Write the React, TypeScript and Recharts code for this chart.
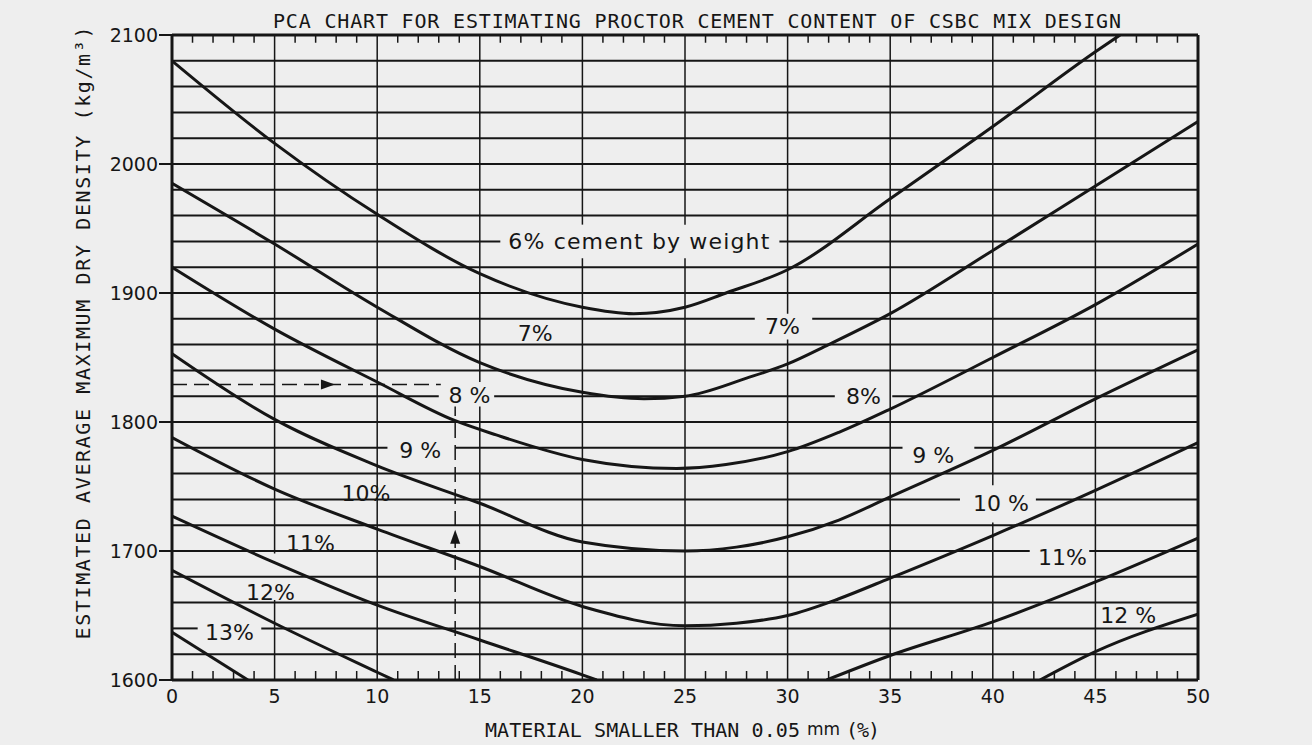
import { LineChart, Line, XAxis, YAxis, ReferenceLine, ReferenceDot } from 'recharts';

const BG = '#eeeeee';
const INK = '#161616';
const LABEL_FONT = "'DejaVu Sans', 'Noto Sans', sans-serif";
const MONO_FONT = "'DejaVu Sans Mono', 'Liberation Mono', monospace";

// axes
const xTicks = [0, 5, 10, 15, 20, 25, 30, 35, 40, 45, 50];
const yTicks = [1600, 1700, 1800, 1900, 2000, 2100];
const gridX = [5, 10, 15, 20, 25, 30, 35, 40, 45];
const gridY = [
  1620, 1640, 1660, 1680, 1700, 1720, 1740, 1760, 1780, 1800, 1820, 1840,
  1860, 1880, 1900, 1920, 1940, 1960, 1980, 2000, 2020, 2040, 2060, 2080,
];
const minorX = [
  1, 2, 3, 4, 6, 7, 8, 9, 11, 12, 13, 14, 16, 17, 18, 19, 21, 22, 23, 24,
  26, 27, 28, 29, 31, 32, 33, 34, 36, 37, 38, 39, 41, 42, 43, 44, 46, 47, 48, 49,
];

type Pt = { x: number; y: number };

// cement content curves (material % vs density kg/m3)
const cement6: Pt[] = [
  { x: 0, y: 2080 }, { x: 5, y: 2016 }, { x: 10, y: 1961 }, { x: 15, y: 1915 },
  { x: 20, y: 1889 }, { x: 22.5, y: 1884 }, { x: 25, y: 1889 }, { x: 27, y: 1900 },
  { x: 30, y: 1918 }, { x: 35, y: 1973 }, { x: 40, y: 2029 }, { x: 45, y: 2087 },
  { x: 46.2, y: 2100 },
];
const cement7: Pt[] = [
  { x: 0, y: 1985 }, { x: 5, y: 1938 }, { x: 10, y: 1889 }, { x: 15, y: 1846 },
  { x: 20, y: 1823 }, { x: 23, y: 1818 }, { x: 25, y: 1820 }, { x: 28, y: 1834 },
  { x: 30, y: 1845 }, { x: 32, y: 1860 }, { x: 35, y: 1884 }, { x: 40, y: 1933 },
  { x: 45, y: 1983 }, { x: 50, y: 2033 },
];
const cement8: Pt[] = [
  { x: 0, y: 1920 }, { x: 5, y: 1872 }, { x: 10, y: 1831 }, { x: 13.8, y: 1801 },
  { x: 15.8, y: 1790 }, { x: 20, y: 1771 }, { x: 24.6, y: 1764 }, { x: 27, y: 1767 },
  { x: 30, y: 1777 }, { x: 32.5, y: 1792 }, { x: 35, y: 1810 }, { x: 40, y: 1850 },
  { x: 45, y: 1891 }, { x: 50, y: 1938 },
];
const cement9: Pt[] = [
  { x: 0, y: 1853 }, { x: 5, y: 1802 }, { x: 10, y: 1766 }, { x: 15, y: 1737 },
  { x: 20, y: 1707 }, { x: 25, y: 1700 }, { x: 27.5, y: 1703 }, { x: 30, y: 1711 },
  { x: 32.5, y: 1724 }, { x: 35, y: 1742 }, { x: 40, y: 1778 }, { x: 45, y: 1818 },
  { x: 50, y: 1856 },
];
const cement10: Pt[] = [
  { x: 0, y: 1788 }, { x: 5, y: 1748 }, { x: 10, y: 1717 }, { x: 15, y: 1688 },
  { x: 20, y: 1657 }, { x: 25, y: 1642 }, { x: 27.5, y: 1644 }, { x: 30, y: 1650 },
  { x: 32.5, y: 1663 }, { x: 35, y: 1679 }, { x: 40, y: 1712 }, { x: 45, y: 1747 },
  { x: 50, y: 1784 },
];
const cement11Left: Pt[] = [
  { x: 0, y: 1727 }, { x: 5, y: 1691 }, { x: 10, y: 1658 }, { x: 15, y: 1631 },
  { x: 20, y: 1604 }, { x: 20.7, y: 1600 },
];
const cement11Right: Pt[] = [
  { x: 31.9, y: 1600 }, { x: 35, y: 1619 }, { x: 40, y: 1645 }, { x: 45, y: 1676 },
  { x: 50, y: 1710 },
];
const cement12Left: Pt[] = [
  { x: 0, y: 1685 }, { x: 5, y: 1644 }, { x: 10, y: 1606 }, { x: 10.8, y: 1600 },
];
const cement12Right: Pt[] = [
  { x: 42.3, y: 1600 }, { x: 45, y: 1622 }, { x: 50, y: 1651 },
];
const cement13: Pt[] = [{ x: 0, y: 1637 }, { x: 3.7, y: 1600 }];

const curves = [cement6, cement7, cement8, cement9, cement10, cement11Left, cement11Right, cement12Left, cement12Right, cement13];

// labels written along the curves
const curveLabels = [
  { text: '6% cement by weight', x: 22.75, y: 1940, len: 261 },
  { text: '7%', x: 17.7, y: 1869 },
  { text: '7%', x: 29.75, y: 1874 },
  { text: '8 %', x: 14.5, y: 1821 },
  { text: '8%', x: 33.7, y: 1820 },
  { text: '9 %', x: 12.1, y: 1778 },
  { text: '9 %', x: 37.1, y: 1774 },
  { text: '10%', x: 9.45, y: 1745 },
  { text: '10 %', x: 40.4, y: 1737 },
  { text: '11%', x: 6.75, y: 1706 },
  { text: '11%', x: 43.4, y: 1695 },
  { text: '12%', x: 4.8, y: 1668 },
  { text: '12 %', x: 46.6, y: 1650 },
  { text: '13%', x: 2.8, y: 1637 },
];

// breaks left in the grid lines where a label is lettered over them
const gapsOnY: Record<number, [number, number][]> = {
  1940: [[16.0, 29.6]],
  1880: [[28.4, 31.2]],
  1820: [[13.0, 15.7], [32.3, 35.1]],
  1780: [[10.5, 13.8], [35.6, 39.1]],
  1740: [[38.4, 42.1]],
  1700: [[41.8, 44.7]],
  1640: [[1.25, 4.35]],
};
const gapsOnX: Record<number, [number, number][]> = {
  5: [[1662, 1698]],
  15: [[1812, 1831]],
  20: [[1927, 1953]],
  25: [[1927, 1953]],
  30: [[1864, 1884]],
  40: [[1722, 1751]],
};

// worked example: 1830 kg/m3 with about 14 % fines
const exampleDensity = 1829;
const exampleFines = 13.8;

function pieces(gaps: [number, number][] | undefined, lo: number, hi: number): [number, number][] {
  const out: [number, number][] = [];
  let from = lo;
  (gaps || []).forEach(([a, b]) => {
    out.push([from, a]);
    from = b;
  });
  out.push([from, hi]);
  return out;
}

function CurveLabel(props: any) {
  const { cx, cy, text, len } = props;
  return (
    <text
      x={cx}
      y={cy}
      dy="0.36em"
      textAnchor="middle"
      fontSize={22}
      fontFamily={LABEL_FONT}
      fill={INK}
      textLength={len}
      lengthAdjust={len ? 'spacing' : undefined}
    >
      {text}
    </text>
  );
}

export default function App() {
  return (
    <div style={{ position: 'absolute', left: 0, top: 0, width: 1312, height: 745, background: BG }}>
      <LineChart width={1312} height={745} margin={{ top: 35, right: 114, bottom: 25, left: 112 }}>
        <XAxis
          type="number"
          dataKey="x"
          domain={[0, 50]}
          ticks={xTicks}
          allowDataOverflow
          axisLine={false}
          tickLine={false}
          tickSize={0}
          tickMargin={10}
          height={40}
          tick={{ fill: INK, fontSize: 19, fontFamily: LABEL_FONT }}
        />
        <YAxis
          type="number"
          dataKey="y"
          domain={[1600, 2100]}
          ticks={yTicks}
          allowDataOverflow
          axisLine={false}
          tickLine={{ stroke: INK, strokeWidth: 2 }}
          tickSize={13}
          tickMargin={1}
          width={60}
          tick={{ fill: INK, fontSize: 19, fontFamily: LABEL_FONT }}
        />
        {gridY.map((v) =>
          pieces(gapsOnY[v], 0, 50).map(([a, b]) => (
            <ReferenceLine key={`h${v}-${a}`} segment={[{ x: a, y: v }, { x: b, y: v }]} stroke={INK} strokeWidth={2} />
          )),
        )}
        {gridX.map((v) =>
          pieces(gapsOnX[v], 1600, 2100).map(([a, b]) => (
            <ReferenceLine key={`v${v}-${a}`} segment={[{ x: v, y: a }, { x: v, y: b }]} stroke={INK} strokeWidth={1.5} />
          )),
        )}
        {minorX.map((v) => (
          <ReferenceLine key={'tt' + v} segment={[{ x: v, y: 2100 }, { x: v, y: 2094 }]} stroke={INK} strokeWidth={1.5} />
        ))}
        {minorX.map((v) => (
          <ReferenceLine key={'tb' + v} segment={[{ x: v, y: 1600 }, { x: v, y: 1607 }]} stroke={INK} strokeWidth={1.5} />
        ))}
        <ReferenceLine x={0} stroke={INK} strokeWidth={3} />
        <ReferenceLine x={50} stroke={INK} strokeWidth={3} />
        <ReferenceLine y={1600} stroke={INK} strokeWidth={3} />
        <ReferenceLine y={2100} stroke={INK} strokeWidth={3} />
        <ReferenceLine
          segment={[{ x: 0, y: exampleDensity }, { x: 13.1, y: exampleDensity }]}
          stroke={INK}
          strokeWidth={1.5}
          strokeDasharray="15 7"
        />
        <ReferenceLine
          segment={[{ x: exampleFines, y: 1600 }, { x: exampleFines, y: 1812 }]}
          stroke={INK}
          strokeWidth={1.5}
          strokeDasharray="15 7"
        />
        {curves.map((d, i) => (
          <Line
            key={'c' + i}
            data={d}
            dataKey="y"
            type="monotone"
            stroke={INK}
            strokeWidth={3}
            dot={false}
            activeDot={false}
            isAnimationActive={false}
          />
        ))}
        {curveLabels.map((l, i) => (
          <ReferenceDot
            key={'l' + i}
            x={l.x}
            y={l.y}
            r={1}
            shape={(p: any) => <CurveLabel cx={p.cx} cy={p.cy} text={l.text} len={l.len} />}
          />
        ))}
        <ReferenceDot
          x={7.6}
          y={exampleDensity}
          r={1}
          shape={(p: any) => (
            <polygon points={`${p.cx + 7},${p.cy} ${p.cx - 7},${p.cy - 5} ${p.cx - 7},${p.cy + 5}`} fill={INK} />
          )}
        />
        <ReferenceDot
          x={exampleFines}
          y={1711}
          r={1}
          shape={(p: any) => (
            <polygon points={`${p.cx},${p.cy - 7} ${p.cx - 5},${p.cy + 7} ${p.cx + 5},${p.cy + 7}`} fill={INK} />
          )}
        />
      </LineChart>
      <svg
        width={1312}
        height={745}
        style={{ position: 'absolute', left: 0, top: 0, pointerEvents: 'none' }}
      >
        <text x={273} y={28} fontSize={20} fontFamily={MONO_FONT} fill={INK} textLength={848} lengthAdjust="spacing">
          PCA CHART FOR ESTIMATING PROCTOR CEMENT CONTENT OF CSBC MIX DESIGN
        </text>
        <text
          x={90}
          y={333}
          transform="rotate(-90 90 333)"
          textAnchor="middle"
          fontSize={20}
          fontFamily={MONO_FONT}
          fill={INK}
          textLength={613}
          lengthAdjust="spacing"
        >
          ESTIMATED AVERAGE MAXIMUM DRY DENSITY (kg/m³)
        </text>
        <text x={485} y={737} fontSize={20} fontFamily={MONO_FONT} fill={INK} textLength={315} lengthAdjust="spacing">
          MATERIAL SMALLER THAN 0.05
        </text>
        <text x={807} y={735} fontSize={17} fontFamily={LABEL_FONT} fill={INK}>
          mm
        </text>
        <text x={846} y={737} fontSize={20} fontFamily={MONO_FONT} fill={INK} textLength={34} lengthAdjust="spacing">
          (%)
        </text>
      </svg>
    </div>
  );
}
